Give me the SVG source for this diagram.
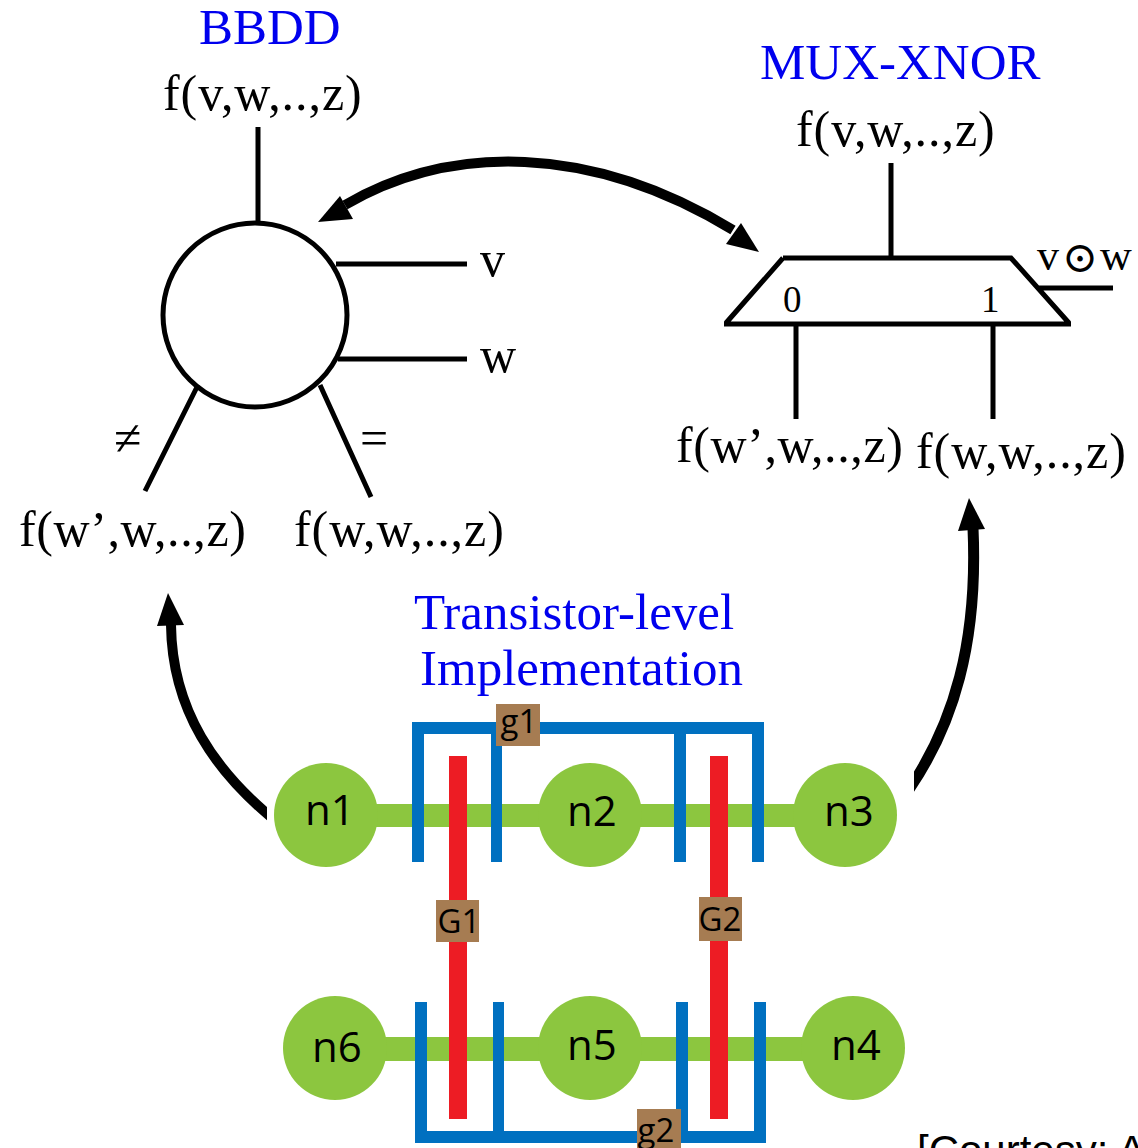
<svg xmlns="http://www.w3.org/2000/svg" width="1138" height="1148" viewBox="0 0 1138 1148">
<style>
.t{font-family:"Liberation Serif","DejaVu Serif",serif;font-size:50px;fill:#000}
.w{letter-spacing:.95px}
.h{font-family:"Liberation Serif",serif;font-size:51px;fill:#0000ee}
.s{font-family:"Liberation Serif",serif;font-size:37px;fill:#000}
.l{stroke:#000;stroke-width:5;fill:none}
.a{stroke:#000;stroke-width:10;fill:none}
.ah{fill:#000}
.g{fill:#8cc63f}
.b{fill:#0070c0}
.r{fill:#ed1c24}
.box{fill:#a67c52}
.n{font-family:"Open Sans","Noto Sans",sans-serif;font-size:42px;fill:#000;text-anchor:middle}
.p{font-family:"Open Sans","Noto Sans",sans-serif;font-size:33px;fill:#000;text-anchor:middle}
</style>
<defs>
<clipPath id="cl"><rect x="100" y="580" width="167" height="260"/></clipPath>
<clipPath id="cr"><rect x="914" y="500" width="100" height="320"/></clipPath>
</defs>
<g id="connectors">
<path class="a" d="M345 205C450 144 590 143 733 230"/>
<polygon class="ah" points="318,222 340,196 353,219"/>
<polygon class="ah" points="759,252 741,223 726,244"/>
<path class="a" clip-path="url(#cl)" d="M277 822C215 772 172 710 171 625"/>
<polygon class="ah" points="168,593 157,626 184,625"/>
<path class="a" style="stroke-width:11" clip-path="url(#cr)" d="M905 795C955 725 978 640 973 528"/>
<polygon class="ah" points="969,498 958,531 985,529"/>
</g>
<g id="bbdd">
<text class="h" x="199" y="44">BBDD</text>
<text class="t w" x="163" y="110">f(v,w,..,z)</text>
<circle class="l" cx="255" cy="315" r="92"/>
<path class="l" d="M258 127V222M336 264H467M338 359H467M198 385L145 491M320 385L371 497"/>
<text class="t" x="480" y="276">v</text>
<text class="t" x="480" y="372">w</text>
<text class="t" x="114" y="455">≠</text>
<text class="t" x="360" y="455">=</text>
<text class="t w" x="19" y="546" style="letter-spacing:.6px">f(w’,w,..,z)</text>
<text class="t w" x="294" y="546">f(w,w,..,z)</text>
</g>
<g id="mux-xnor">
<text class="h" x="760" y="79">MUX-XNOR</text>
<text class="t w" x="796" y="146">f(v,w,..,z)</text>
<path class="l" d="M891 163V258M783 258H1011L1069 323M783 258L726 323M724 324H1071M796 324V419M993 324V419M1037 288H1113"/>
<text class="s" x="783" y="312">0</text>
<text class="s" x="981" y="312">1</text>
<text class="t" x="1037" y="270" style="font-size:44px">v<tspan style="font-size:43px" x="1062" y="272">⊙</tspan><tspan x="1100" y="270">w</tspan></text>
<text class="t w" x="676" y="462" style="letter-spacing:.6px">f(w’,w,..,z)</text>
<text class="t w" x="916" y="468">f(w,w,..,z)</text>
</g>
<g id="transistor-label">
<text class="h" x="414" y="629">Transistor-level</text>
<text class="h" x="420" y="685">Implementation</text>
</g>
<g id="wires">
<rect class="g" x="326" y="804" width="520" height="23"/>
<rect class="g" x="335" y="1037" width="518" height="24"/>
<path class="b" d="M412 722H764V862H752V734H686V862H674V734H502V862H491V734H424V862H412Z"/>
<path class="b" d="M415 1002H427V1131H493V1002H504V1131H676V1002H688V1131H754V1002H766V1143H415Z"/>
<rect class="r" x="449" y="756" width="18" height="363"/>
<rect class="r" x="710" y="756" width="18" height="363"/>
</g>
<g id="n1"><circle class="g" cx="326" cy="815" r="52"/><text class="n" x="330" y="825">n1</text></g>
<g id="n2"><circle class="g" cx="590" cy="815" r="52"/><text class="n" x="592" y="826">n2</text></g>
<g id="n3"><circle class="g" cx="845" cy="815" r="52"/><text class="n" x="849" y="826">n3</text></g>
<g id="n4"><circle class="g" cx="853" cy="1048" r="52"/><text class="n" x="856" y="1060">n4</text></g>
<g id="n5"><circle class="g" cx="590" cy="1048" r="52"/><text class="n" x="592" y="1060">n5</text></g>
<g id="n6"><circle class="g" cx="335" cy="1048" r="52"/><text class="n" x="337" y="1062">n6</text></g>
<g id="g1"><rect class="box" x="496" y="704" width="44" height="42"/><text class="p" x="519" y="733">g1</text></g>
<g id="G1"><rect class="box" x="436" y="900" width="43" height="42"/><text class="p" x="459" y="933">G1</text></g>
<g id="G2"><rect class="box" x="699" y="897" width="43" height="44"/><text class="p" x="720" y="931">G2</text></g>
<g id="g2"><rect class="box" x="637" y="1109" width="44" height="39"/><text class="p" x="656" y="1142">g2</text></g>
<text x="917" y="1165" style="font-family:'Liberation Sans',sans-serif;font-size:42px;fill:#000">[Courtesy: A</text>
</svg>
